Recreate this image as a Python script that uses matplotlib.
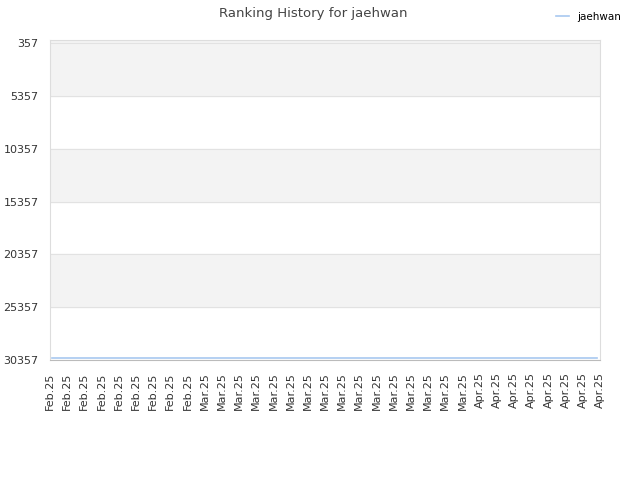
import matplotlib
matplotlib.use("Agg")
import matplotlib.pyplot as plt
import numpy as np

labels = ["Feb.25"] * 9 + ["Mar.25"] * 16 + ["Apr.25"] * 8
ranks = [30150] * 33
yticks = [357, 5357, 10357, 15357, 20357, 25357, 30357]

fig = plt.figure(figsize=(6.4, 4.8), dpi=100)
ax = fig.add_axes([0.078, 0.25, 0.8595, 0.6667])

# alternating bands
for i in range(len(yticks) - 1):
    if i % 2 == 0:
        ax.axhspan(yticks[i], yticks[i + 1], color="#f3f3f3", zorder=0)
ax.axhspan(70, 357, color="#f3f3f3", zorder=0)
for t in yticks:
    ax.axhline(t, color="#e2e2e2", lw=0.8, zorder=1)

x = np.arange(len(ranks))
ax.plot(x, ranks, color="#a8c8f0", lw=1.2, label="jaehwan", zorder=3)

ax.set_ylim(30357, 70)
ax.set_xlim(-0.15, len(ranks) - 0.85)
ax.set_yticks(yticks)
ax.set_yticklabels([str(t) for t in yticks], fontsize=8, color="#333333")
ax.set_xticks(np.linspace(-0.15, len(ranks) - 0.85, len(labels)))
ax.set_xticklabels(labels, rotation=90, fontsize=8, color="#333333")
ax.tick_params(axis="x", length=0, pad=9)
ax.tick_params(axis="y", length=0, pad=8)

for s in ["left", "right", "top"]:
    ax.spines[s].set_color("#dddddd")
ax.spines["bottom"].set_color("#bbbbbb")

fig.suptitle("Ranking History for jaehwan", x=0.49, y=0.985, fontsize=9.5, color="#444444")
fig.legend(loc="upper right", bbox_to_anchor=(0.985, 0.995), frameon=False,
           fontsize=7.5, handlelength=1.2)

fig.savefig("out.png", dpi=100)
